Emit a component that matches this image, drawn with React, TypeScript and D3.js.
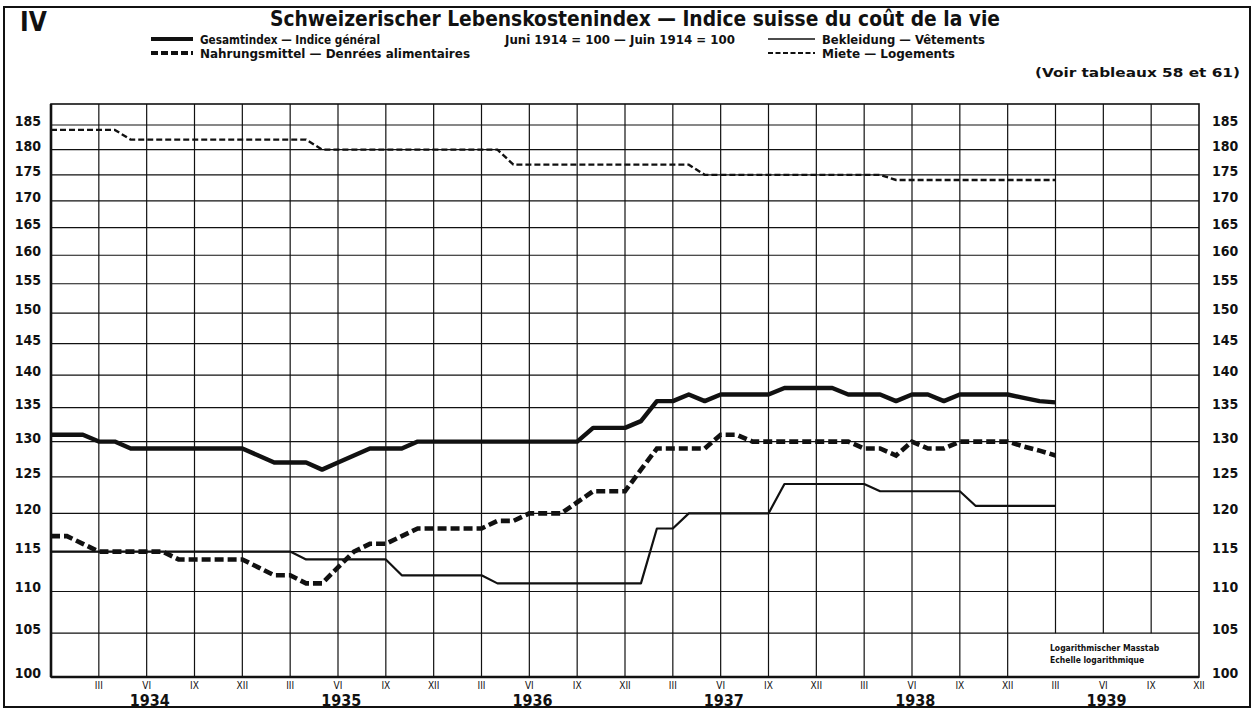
import React from "react";
import * as d3 from "d3";

const W = 1254;
const H = 709;

// ---------- data (monthly, month 0 = start of 1934 ... month 63 = March 1939) ----------
const years = [1934, 1935, 1936, 1937, 1938, 1939];
const quarterLabels = ["III", "VI", "IX", "XII"];
const yTicks = [100, 105, 110, 115, 120, 125, 130, 135, 140, 145, 150, 155, 160, 165, 170, 175, 180, 185];

const gesamtindex = [
  131, 131, 131, 130, 130, 129, 129, 129, 129, 129, 129, 129, 129,
  128, 127, 127, 127, 126, 127, 128, 129, 129, 129, 130,
  130, 130, 130, 130, 130, 130, 130, 130, 130, 130, 132, 132, 132,
  133, 136, 136, 137, 136, 137, 137, 137, 137, 138, 138, 138,
  138, 137, 137, 137, 136, 137, 137, 136, 137, 137, 137, 137,
  136.5, 136, 135.8,
];

const nahrungsmittel = [
  117, 117, 116, 115, 115, 115, 115, 115, 114, 114, 114, 114, 114,
  113, 112, 112, 111, 111, 113, 115, 116, 116, 117, 118,
  118, 118, 118, 118, 119, 119, 120, 120, 120, 121.5, 123, 123, 123,
  126, 129, 129, 129, 129, 131, 131, 130, 130, 130, 130, 130,
  130, 130, 129, 129, 128, 130, 129, 129, 130, 130, 130, 130,
  129.3, 128.7, 128,
];

const bekleidung = [
  115, 115, 115, 115, 115, 115, 115, 115, 115, 115, 115, 115, 115,
  115, 115, 115, 114, 114, 114, 114, 114, 114, 112, 112,
  112, 112, 112, 112, 111, 111, 111, 111, 111, 111, 111, 111, 111,
  111, 118, 118, 120, 120, 120, 120, 120, 120, 124, 124, 124,
  124, 124, 124, 123, 123, 123, 123, 123, 123, 121, 121, 121,
  121, 121, 121,
];

const miete = [
  184, 184, 184, 184, 184, 182, 182, 182, 182, 182, 182, 182, 182,
  182, 182, 182, 182, 180, 180, 180, 180, 180, 180, 180,
  180, 180, 180, 180, 180, 177, 177, 177, 177, 177, 177, 177, 177,
  177, 177, 177, 177, 175, 175, 175, 175, 175, 175, 175, 175,
  175, 175, 175, 175, 174, 174, 174, 174, 174, 174, 174, 174,
  174, 174, 174,
];

const FONT = "'Liberation Sans Narrow', 'DejaVu Sans Condensed', 'Arial Narrow', 'Liberation Sans', sans-serif";
const INK = "#111";

export default function App() {
  const left = 51;
  const right = 1199;
  const top = 104;
  const bottom = 677;
  const totalMonths = years.length * 12;

  const x = d3.scaleLinear().domain([0, totalMonths]).range([left, right]);
  const y = d3.scaleLog().domain([100, 185]).range([bottom, 125]);

  const line = d3
    .line<number>()
    .x((_, i) => x(i))
    .y((d) => y(d))
    .curve(d3.curveLinear);

  const quarterTicks: { m: number; label: string }[] = [];
  years.forEach((_, yi) => {
    quarterLabels.forEach((lab, qi) => {
      quarterTicks.push({ m: yi * 12 + (qi + 1) * 3, label: lab });
    });
  });

  const boxStart = 5 * 12; // XII 1938
  const boxTop = y(105);

  return (
    <svg
      width={W}
      height={H}
      viewBox={`0 0 ${W} ${H}`}
      style={{ position: "absolute", left: 0, top: 0, background: "#fff" }}
      fontFamily={FONT}
    >
      <rect x={0} y={0} width={W} height={H} fill="#fff" />
      {/* outer frame */}
      <rect x={4} y={7} width={1246} height={700} fill="none" stroke={INK} strokeWidth={2} />

      {/* header */}
      <text x={20} y={31} fontSize={26} fontWeight="bold" fill={INK}>IV</text>
      <text x={635} y={25.5} fontSize={22} fontWeight="bold" fill={INK} textAnchor="middle"
        textLength={730} lengthAdjust="spacingAndGlyphs">
        Schweizerischer Lebenskostenindex — Indice suisse du coût de la vie
      </text>

      {/* legend */}
      <line x1={151} x2={193} y1={39} y2={39} stroke={INK} strokeWidth={4} />
      <text x={200} y={43.5} fontSize={12} fontWeight="bold" fill={INK} textLength={180} lengthAdjust="spacingAndGlyphs">
        Gesamtindex — Indice général
      </text>
      <line x1={151} x2={193} y1={53} y2={53} stroke={INK} strokeWidth={4} strokeDasharray="7,3" />
      <text x={200} y={57.5} fontSize={12} fontWeight="bold" fill={INK} textLength={270} lengthAdjust="spacingAndGlyphs">
        Nahrungsmittel — Denrées alimentaires
      </text>
      <text x={505} y={43.5} fontSize={12} fontWeight="bold" fill={INK} textLength={230} lengthAdjust="spacingAndGlyphs">
        Juni 1914 = 100 — Juin 1914 = 100
      </text>
      <line x1={768} x2={815} y1={39} y2={39} stroke={INK} strokeWidth={1.6} />
      <text x={822} y={43.5} fontSize={12} fontWeight="bold" fill={INK} textLength={163} lengthAdjust="spacingAndGlyphs">
        Bekleidung — Vêtements
      </text>
      <line x1={768} x2={815} y1={53} y2={53} stroke={INK} strokeWidth={1.8} strokeDasharray="5,2.5" />
      <text x={822} y={57.5} fontSize={12} fontWeight="bold" fill={INK} textLength={133} lengthAdjust="spacingAndGlyphs">
        Miete — Logements
      </text>
      <text x={1240} y={77} fontSize={12} fontWeight="bold" fill={INK} textAnchor="end" textLength={205} lengthAdjust="spacingAndGlyphs">
        (Voir tableaux 58 et 61)
      </text>

      {/* horizontal grid */}
      {yTicks.map((t) => (
        <line key={"h" + t} x1={left} x2={right} y1={y(t)} y2={y(t)} stroke={INK} strokeWidth={1.2} />
      ))}
      {/* vertical grid */}
      {quarterTicks
        .filter((q) => q.m < totalMonths)
        .map((q) => (
          <line
            key={"v" + q.m}
            x1={x(q.m)}
            x2={x(q.m)}
            y1={top}
            y2={q.m > boxStart ? boxTop : bottom}
            stroke={INK}
            strokeWidth={1.2}
          />
        ))}
      {/* plot frame */}
      <rect x={left} y={top} width={right - left} height={bottom - top} fill="none" stroke={INK} strokeWidth={1.6} />
      <line x1={left} x2={left} y1={top} y2={bottom} stroke={INK} strokeWidth={2.6} />
      <line x1={left} x2={right} y1={bottom} y2={bottom} stroke={INK} strokeWidth={2.6} />

      {/* y labels */}
      {yTicks.map((t) => (
        <g key={"yl" + t}>
          <text x={41} y={y(t) + 1} fontSize={14} fontWeight="bold" fill={INK} textAnchor="end">{t}</text>
          <text x={1212} y={y(t) + 1} fontSize={14} fontWeight="bold" fill={INK}>{t}</text>
        </g>
      ))}

      {/* x labels */}
      {quarterTicks.map((q) => (
        <text key={"xl" + q.m} x={x(q.m)} y={688.5} fontSize={10} fill={INK} textAnchor="middle">{q.label}</text>
      ))}
      {years.map((yr, i) => (
        <text key={"yr" + yr} x={x(i * 12 + 6.2)} y={706} fontSize={16} fontWeight="bold" fill={INK} textAnchor="middle">{yr}</text>
      ))}

      {/* note box */}
      <text x={1050} y={651} fontSize={8.5} fontWeight="bold" fill={INK}>Logarithmischer Masstab</text>
      <text x={1050} y={663} fontSize={8.5} fontWeight="bold" fill={INK}>Echelle logarithmique</text>

      {/* series */}
      <path d={line(miete) || ""} fill="none" stroke={INK} strokeWidth={2.4} strokeDasharray="6,3" />
      <path d={line(bekleidung) || ""} fill="none" stroke={INK} strokeWidth={2.2} strokeLinejoin="round" />
      <path d={line(nahrungsmittel) || ""} fill="none" stroke={INK} strokeWidth={4.6} strokeDasharray="9,4" />
      <path d={line(gesamtindex) || ""} fill="none" stroke={INK} strokeWidth={4.4} strokeLinejoin="round" />
    </svg>
  );
}
